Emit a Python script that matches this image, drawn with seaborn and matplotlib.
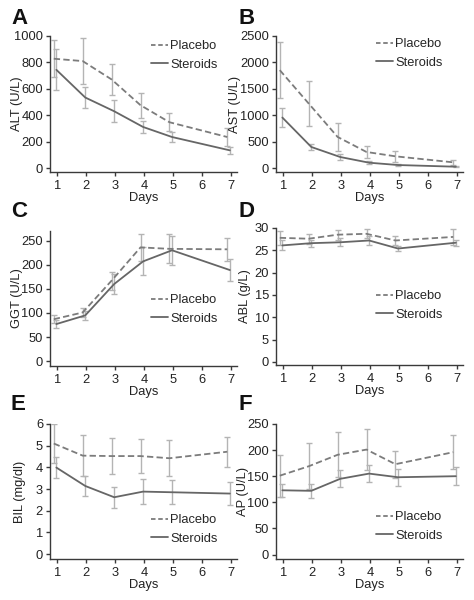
import matplotlib
matplotlib.use("Agg")
import matplotlib.pyplot as plt
import seaborn as sns
import pandas as pd
from matplotlib.lines import Line2D

# ---------------- data ----------------
days = [1, 2, 3, 4, 5, 7]
groups = ["Placebo", "Steroids"]

alt_placebo = [828, 810, 671, 476, 347, 235]
alt_placebo_err = [140, 176, 120, 95, 70, 65]
alt_steroids = [744, 534, 430, 311, 235, 134]
alt_steroids_err = [155, 80, 83, 48, 38, 27]

ast_placebo = [1854, 1222, 589, 304, 222, 108]
ast_placebo_err = [525, 427, 260, 110, 110, 50]
ast_steroids = [956, 399, 209, 101, 57, 25]
ast_steroids_err = [178, 55, 50, 25, 15, 10]

ggt_placebo = [87, 101, 167, 236, 233, 232]
ggt_placebo_err = [8, 10, 19, 28, 30, 24]
ggt_steroids = [77, 95, 160, 207, 230, 189]
ggt_steroids_err = [8, 9, 21, 29, 30, 22]

abl_placebo = [27.8, 27.6, 28.5, 28.7, 27.2, 28.0]
abl_placebo_err = [1.5, 1.1, 1.1, 1.0, 0.9, 1.8]
abl_steroids = [26.1, 26.6, 26.8, 27.2, 25.4, 26.7]
abl_steroids_err = [1.1, 0.8, 0.9, 0.9, 0.6, 0.7]

bil_placebo = [5.1, 4.54, 4.52, 4.52, 4.42, 4.72]
bil_placebo_err = [0.9, 0.95, 0.83, 0.8, 0.82, 0.7]
bil_steroids = [3.99, 3.14, 2.62, 2.88, 2.85, 2.79]
bil_steroids_err = [0.49, 0.47, 0.48, 0.57, 0.56, 0.54]

ap_placebo = [151, 169, 191, 201, 173, 196]
ap_placebo_err = [40, 44, 43, 39, 26, 33]
ap_steroids = [123, 122, 145, 155, 148, 150]
ap_steroids_err = [13, 13, 16, 17, 16, 17]

panel_letters = ["A", "B", "C", "D", "E", "F"]
y_labels = ["ALT (U/L)", "AST (U/L)", "GGT (U/L)", "ABL (g/L)", "BIL (mg/dl)", "AP (U/L)"]
y_ticks = [
    [0, 200, 400, 600, 800, 1000],
    [0, 500, 1000, 1500, 2000, 2500],
    [0, 50, 100, 150, 200, 250],
    [0, 5, 10, 15, 20, 25, 30],
    [0, 1, 2, 3, 4, 5, 6],
    [0, 50, 100, 150, 200, 250],
]
x_ticks = [1, 2, 3, 4, 5, 6, 7]
x_label = "Days"

series = [
    (alt_placebo, alt_placebo_err, alt_steroids, alt_steroids_err),
    (ast_placebo, ast_placebo_err, ast_steroids, ast_steroids_err),
    (ggt_placebo, ggt_placebo_err, ggt_steroids, ggt_steroids_err),
    (abl_placebo, abl_placebo_err, abl_steroids, abl_steroids_err),
    (bil_placebo, bil_placebo_err, bil_steroids, bil_steroids_err),
    (ap_placebo, ap_placebo_err, ap_steroids, ap_steroids_err),
]

# ---------------- style ----------------
sns.set_theme(style="ticks")
plt.rcParams["font.family"] = ["Liberation Sans", "DejaVu Sans"]
FS = 9.3
axis_color = "#3a3a3a"
plt.rcParams.update({
    "font.size": FS,
    "axes.edgecolor": axis_color,
    "axes.linewidth": 1.0,
    "xtick.color": axis_color,
    "ytick.color": axis_color,
    "xtick.labelcolor": "#222222",
    "ytick.labelcolor": "#222222",
    "axes.labelcolor": "#222222",
    "xtick.major.size": 3,
    "ytick.major.size": 3,
    "xtick.major.width": 1.0,
    "ytick.major.width": 1.0,
    "xtick.major.pad": 2.5,
    "ytick.major.pad": 2,
    "xtick.labelsize": FS,
    "ytick.labelsize": FS,
    "axes.labelsize": FS,
})

W, H = 474, 600
fig = plt.figure(figsize=(W / 100, H / 100), dpi=100)

# axes rectangles in pixels: (left, top, right, bottom)
rects = [
    (50, 36, 236.5, 172),
    (276, 36, 462.5, 172),
    (50, 231, 236.5, 366),
    (276, 228, 462.5, 365),
    (50, 424, 236.5, 559),
    (276, 424, 462.5, 559),
]
ylims = [(-30, 1000), (-75, 2500), (-10, 270), (-0.7, 30), (-0.23, 6), (-8.6, 250)]
letter_pos = [(11, 24), (238, 24), (11, 217), (238, 217), (11, 410), (238, 410)]
ylabel_x = [17, 235, 17, 245, 20, 243]
xlabel_gap = 26
# legend anchor (pixel x of handle start, pixel y of first row center)
legend_pos = [(151, 48), (376, 46), (151, 302), (376, 298), (151, 522), (376, 519)]

placebo_color = "#7c7c7c"
steroid_color = "#666666"
err_color = "#b4b4b4"
offsets = {"Placebo": -0.12, "Steroids": -0.03}

for i, (ax_rect, (pm, pe, sm, se)) in enumerate(zip(rects, series)):
    l, t, r, b = ax_rect
    ax = fig.add_axes([l / W, 1 - b / H, (r - l) / W, (b - t) / H])

    df = pd.DataFrame({
        "day": days * 2,
        "value": list(pm) + list(sm),
        "err": list(pe) + list(se),
        "group": ["Placebo"] * len(days) + ["Steroids"] * len(days),
    })
    df["x"] = df["day"] + df["group"].map(offsets)

    for g in groups:
        sub = df[df["group"] == g]
        ax.errorbar(sub["x"], sub["value"], yerr=sub["err"], fmt="none",
                    ecolor=err_color, elinewidth=1.0, capsize=2, capthick=1.0,
                    zorder=2)

    sns.lineplot(data=df[df["group"] == "Placebo"], x="x", y="value", ax=ax,
                 color=placebo_color, linewidth=1.3, linestyle=(0, (3.5, 1.8)),
                 zorder=3, legend=False)
    sns.lineplot(data=df[df["group"] == "Steroids"], x="x", y="value", ax=ax,
                 color=steroid_color, linewidth=1.3, zorder=3, legend=False)

    ax.set_xlim(0.75, 7.2)
    ax.set_ylim(*ylims[i])
    ax.set_xticks(x_ticks)
    ax.set_yticks(y_ticks[i])
    ax.set_xlabel(x_label)
    ax.set_ylabel(y_labels[i])
    w_px, h_px = r - l, b - t
    ax.yaxis.set_label_coords((ylabel_x[i] - l) / w_px, 0.5)
    ax.xaxis.set_label_coords(0.5, -xlabel_gap / h_px)
    ax.xaxis.label.set_va("center")
    ax.yaxis.label.set_va("center")
    sns.despine(ax=ax)

    handles = [
        Line2D([], [], color=placebo_color, linewidth=1.3, linestyle=(0, (2.5, 1.5))),
        Line2D([], [], color=steroid_color, linewidth=1.3),
    ]
    lx, ly = legend_pos[i]
    ax.legend(handles, groups, loc="upper left",
              bbox_to_anchor=(lx / W, 1 - (ly - 8) / H),
              bbox_transform=fig.transFigure, frameon=False,
              handlelength=1.3, handletextpad=0.2, borderpad=0,
              borderaxespad=0, labelspacing=0.5, fontsize=FS)

    px, py = letter_pos[i]
    fig.text(px / W, 1 - py / H, panel_letters[i], fontsize=16,
             fontweight="bold", va="baseline", ha="left", color="#111111")

fig.savefig("out.png", dpi=100)
